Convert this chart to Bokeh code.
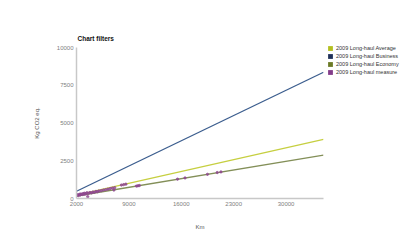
from bokeh.plotting import figure
from bokeh.models import Range1d, Legend, LegendItem, FixedTicker
from bokeh.embed import file_html
from bokeh.resources import INLINE

# ---- data ----
line_km = [2000, 35000]
business_kg = [480, 8360]
average_kg = [225, 3920]
economy_kg = [165, 2877]

measure_km = [2050, 2150, 2250, 2400, 2500, 2600, 2750, 2900, 3000, 3100, 3250, 3400,
              3500, 3600, 3800, 4000, 4200, 4400, 4600, 4800, 5000, 5300, 5600, 5900,
              6200, 6500, 6800, 7100, 7000, 8000, 8300, 8600, 10000, 10200, 10400,
              15500, 16500, 19500, 20800, 21300]
measure_kg = [210, 250, 190, 280, 230, 300, 260, 330, 280, 350, 300, 380,
              120, 340, 400, 370, 430, 410, 470, 450, 500, 520, 560, 590,
              620, 660, 690, 720, 560, 890, 920, 950, 820, 840, 860,
              1280, 1360, 1600, 1720, 1760]

series_names = ["2009 Long-haul Average", "2009 Long-haul Business",
                "2009 Long-haul Economy", "2009 Long-haul measure"]
x_ticks = [2000, 9000, 16000, 23000, 30000]
y_ticks = [0, 2500, 5000, 7500, 10000]

FONT = "Liberation Sans"
line_colors = {"avg": "#c6cf40", "bus": "#3b5d8e", "eco": "#838f58", "mea": "#8e4790"}
legend_colors = ["#b3bf1f", "#1f3058", "#6b7a25", "#833c8a"]

p = figure(frame_width=247, frame_height=151, output_backend="svg", toolbar_location=None,
           x_range=Range1d(2000, 35000), y_range=Range1d(0, 10000),
           min_border_left=76, min_border_right=77, min_border_top=47, min_border_bottom=48,
           title="Chart filters")
p.outline_line_color = None
p.xgrid.visible = False
p.ygrid.visible = False
p.background_fill_color = "white"
p.border_fill_color = "white"

p.title.text_font = FONT
p.title.text_font_size = "6.5px"
p.title.text_font_style = "bold"
p.title.text_color = "#111111"
p.title.align = "left"
p.title.standoff = 12
p.title.offset = 1

r_avg = p.line(line_km, average_kg, line_color=line_colors["avg"], line_width=1.3)
r_bus = p.line(line_km, business_kg, line_color=line_colors["bus"], line_width=1.3)
r_eco = p.line(line_km, economy_kg, line_color=line_colors["eco"], line_width=1.3)
r_mea = p.scatter(measure_km, measure_kg, size=2.3, color=line_colors["mea"],
                  alpha=0.8, marker="circle")

# legend swatches (renderers with no drawable data)
nan = float("nan")
dummies = []
for c in legend_colors:
    dummies.append(p.quad(left=[nan], right=[nan], top=[nan], bottom=[nan],
                          fill_color=c, line_color=None))

legend = Legend(items=[LegendItem(label=n, renderers=[d]) for n, d in zip(series_names, dummies)],
                location=(4, 123), orientation="vertical",
                label_text_font=FONT, label_text_font_size="5.5px", label_text_color="#333333",
                glyph_width=6, glyph_height=6, label_height=6, label_standoff=3,
                spacing=2, padding=0, margin=0, border_line_color=None,
                background_fill_alpha=0)
p.add_layout(legend, "right")

for ax in (p.xaxis[0], p.yaxis[0]):
    ax.axis_line_color = "#c8c8c8"
    ax.axis_line_width = 1.5
    ax.major_tick_line_color = None
    ax.minor_tick_line_color = None
    ax.major_tick_out = 0
    ax.major_tick_in = 0
    ax.minor_tick_out = 0
    ax.minor_tick_in = 0
    ax.major_label_text_font = FONT
    ax.major_label_text_font_size = "6px"
    ax.major_label_text_color = "#808080"
    ax.axis_label_text_font = FONT
    ax.axis_label_text_font_size = "6px"
    ax.axis_label_text_font_style = "normal"
    ax.axis_label_text_color = "#555555"

p.xaxis.ticker = FixedTicker(ticks=x_ticks)
p.yaxis.ticker = FixedTicker(ticks=y_ticks)
p.xaxis.axis_label = "Km"
p.yaxis.axis_label = "Kg CO2 eq."
p.xaxis.major_label_standoff = 3
p.yaxis.major_label_standoff = 3
p.xaxis.axis_label_standoff = 15
p.yaxis.axis_label_standoff = 14

open("out.html", "w").write(file_html(p, INLINE))
